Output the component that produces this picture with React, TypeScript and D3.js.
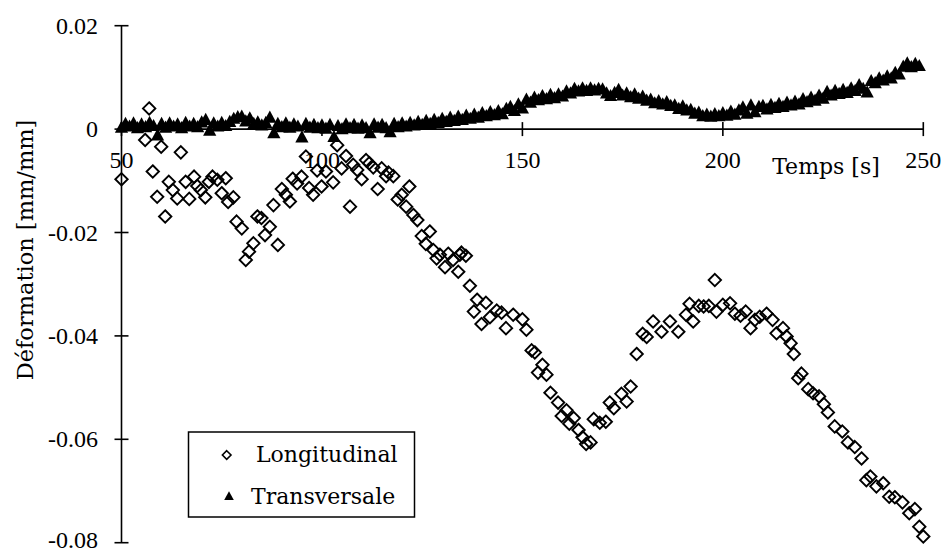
import React from "react";
import * as d3 from "d3";

// Longitudinal strain (open diamonds): time [s] and value [mm/mm]
const longTime = [
  50, 55.9, 56.9, 57.8, 58.9, 59.9, 60.9, 61.8, 62.8, 63.9, 64.8, 66.0, 66.9, 68.1, 68.9, 69.8,
  70.9, 71.8, 72.7, 73.9, 75.0, 76.0, 76.6, 77.9, 78.7, 80.0, 81.0, 81.8, 82.9, 83.9, 84.9, 85.8,
  87.0, 87.9, 89.0, 90.0, 91.0, 92.0, 92.7, 93.8, 94.9, 96.0, 96.8, 97.8, 98.8, 99.9, 101.0, 102.8,
  103.8, 104.9, 106.0, 107.0, 107.8, 108.8, 109.9, 111.0, 111.8, 112.8, 113.9, 114.9, 116.0, 116.6,
  117.8, 118.9, 119.9, 121.0, 121.8, 122.8, 123.8, 124.9, 125.9, 126.9, 127.8, 128.6, 129.4, 130.7,
  131.5, 132.7, 134.0, 134.4, 134.8, 135.9, 136.9, 137.9, 138.7, 139.8, 140.9, 141.9, 143.6, 144.8,
  145.9, 147.7, 150.0, 151.0, 152.3, 153.1, 153.9, 155.0, 156.0, 157.0, 158.9, 159.8, 161.0, 161.7,
  162.8, 164.0, 165.0, 165.9, 167.0, 167.8, 169.3, 170.8, 171.8, 172.8, 174.7, 176.0, 177.0, 178.5,
  180.0, 181.0, 182.6, 184.7, 186.8, 188.9, 190.8, 191.7, 192.6, 194.0, 195.2, 196.5, 198.0, 198.4,
  200.0, 201.8, 203.0, 204.4, 205.7, 206.9, 208.0, 209.2, 210.9, 212.4, 213.4, 215.0, 215.9, 216.9,
  217.7, 218.8, 219.6, 221.3, 222.5, 224.0, 225.2, 226.2, 227.9, 229.8, 231.2, 232.9, 234.6, 235.8,
  236.8, 238.3, 240.0, 241.5, 242.9, 244.8, 246.5, 247.9, 249.0, 250.0,
];
const longValue = [
  -0.0097, -0.0021, 0.004, -0.0082, -0.0131, -0.0034, -0.0169, -0.0102, -0.0118, -0.0134, -0.0045, -0.0102, -0.0135, -0.0092, -0.011, -0.0118,
  -0.0132, -0.0102, -0.0092, -0.0098, -0.0124, -0.0095, -0.0141, -0.0132, -0.0179, -0.0192, -0.0253, -0.0237, -0.0221, -0.0169, -0.0172, -0.0205,
  -0.0189, -0.0147, -0.0224, -0.0116, -0.0127, -0.014, -0.0096, -0.0105, -0.0092, -0.0053, -0.0114, -0.0127, -0.008, -0.0111, -0.0082, -0.0103,
  -0.0031, -0.0076, -0.0052, -0.015, -0.0069, -0.0079, -0.0097, -0.006, -0.0066, -0.0074, -0.0116, -0.0076, -0.0091, -0.0084,
  -0.0091, -0.0136, -0.0127, -0.015, -0.0111, -0.0166, -0.0176, -0.0207, -0.0222, -0.0198, -0.0234, -0.025, -0.0243, -0.0267,
  -0.0241, -0.0253, -0.0276, -0.0243, -0.0239, -0.0245, -0.0303, -0.0353, -0.033, -0.0377, -0.0336, -0.0364, -0.0351, -0.0355,
  -0.0385, -0.0359, -0.0368, -0.0388, -0.0428, -0.0432, -0.0471, -0.0456, -0.0475, -0.051, -0.0529, -0.0555, -0.0544, -0.057,
  -0.0559, -0.0582, -0.0596, -0.0609, -0.0606, -0.0561, -0.0568, -0.0566, -0.0529, -0.054, -0.0512, -0.0527, -0.0498, -0.0435,
  -0.0396, -0.0402, -0.0372, -0.0392, -0.0372, -0.0392, -0.0359, -0.0338, -0.0372, -0.0342, -0.0343, -0.0342, -0.0292, -0.0353,
  -0.034, -0.0337, -0.0357, -0.0361, -0.0353, -0.0385, -0.0369, -0.0363, -0.0357, -0.0369, -0.0395, -0.0385, -0.0401, -0.0414,
  -0.0435, -0.0482, -0.0473, -0.0503, -0.0511, -0.0517, -0.0532, -0.0548, -0.0575, -0.0585, -0.0606, -0.0615, -0.0637, -0.0679,
  -0.0672, -0.0691, -0.0685, -0.0711, -0.0712, -0.0722, -0.0743, -0.0735, -0.0769, -0.0788,
];

// Transverse strain (filled triangles), one sample per second from 50 s
const transStart = 50;
const transValue = [
  0.0004, 0.0011, 0.0006, 0.0012, 0.0003, 0.001, 0.0005, 0.0013, 0.0007, -0.0011,
  0.0011, 0.0004, 0.0012, 0.0006, 0.001, 0.0003, 0.0013, 0.0006, 0.0011, 0.0005,
  0.0014, 0.0019, -0.0002, 0.0012, 0.0006, 0.0013, 0.0007, 0.0015, 0.0021, 0.0024,
  0.0025, 0.0016, 0.0022, 0.0011, 0.0014, 0.0008, 0.0013, 0.0023, -0.0007, 0.0011,
  0.0005, 0.0012, 0.0004, 0.001, 0.0006, -0.0015, 0.0011, 0.0004, 0.0009, 0.0003,
  0.0008, 0.0002, 0.0009, -0.0014, 0.0007, 0.0001, 0.001, 0.0003, 0.0009, 0.0002,
  0.0008, 0.0003, -0.0007, 0.001, 0.0004, 0.0009, 0.0003, -0.0005, 0.0011, 0.0005,
  0.0012, 0.0006, 0.0013, 0.0008, 0.0015, 0.0009, 0.0017, 0.0011, 0.0019, 0.0013,
  0.0021, 0.0015, 0.0023, 0.0017, 0.0025, 0.0019, 0.0027, 0.0021, 0.0029, 0.0023,
  0.0032, 0.0026, 0.0034, 0.0028, 0.0036, 0.003, 0.004, 0.0044, 0.0036, 0.0049,
  0.0041, 0.0058, 0.0052, 0.0062, 0.0057, 0.0065, 0.0059, 0.0067, 0.0061, 0.0068,
  0.0064, 0.0074, 0.007, 0.0079, 0.0074, 0.008, 0.0075, 0.008, 0.0076, 0.0079,
  0.0078, 0.007, 0.0065, 0.0071, 0.0077, 0.0066, 0.007, 0.0063, 0.0068, 0.006,
  0.0064, 0.0056, 0.0058, 0.0051, 0.0055, 0.0049, 0.0053, 0.0046, 0.0047, 0.004,
  0.0045, 0.0037, 0.0038, 0.0031, 0.0033, 0.0026, 0.0029, 0.0025, 0.003, 0.0026,
  0.0032, 0.0027, 0.0035, 0.0029, 0.0037, 0.0043, 0.0031, 0.0047, 0.0034, 0.0044,
  0.0046, 0.0039, 0.0048, 0.0042, 0.005, 0.0044, 0.0052, 0.0047, 0.0054, 0.0049,
  0.0059, 0.0053, 0.0062, 0.0056, 0.0066, 0.006, 0.0073, 0.0066, 0.0075, 0.0069,
  0.0077, 0.0071, 0.008, 0.0075, 0.0086, 0.0079, 0.0072, 0.0094, 0.009, 0.0099,
  0.0095, 0.0103, 0.0099, 0.011, 0.0107, 0.0122, 0.0128, 0.0121, 0.0127, 0.0123,
];

const xTicks = [50, 100, 150, 200, 250];
const yTicks = [0.02, 0, -0.02, -0.04, -0.06, -0.08];
const yTickLabels = ["0.02", "0", "-0.02", "-0.04", "-0.06", "-0.08"];
const legendLabels = ["Longitudinal", "Transversale"];

const W = 945;
const H = 554;
const NUM_FONT = "'Liberation Serif', serif";
const TXT_FONT = "'DejaVu Serif', serif";

const x = d3.scaleLinear().domain([50, 250]).range([121.5, 923.3]);
const y = d3.scaleLinear().domain([-0.08, 0.02]).range([542.7, 25.7]);

const diamond = (cx: number, cy: number, r: number) =>
  `M${cx},${cy - r}L${cx + r},${cy}L${cx},${cy + r}L${cx - r},${cy}Z`;
const triangle = (cx: number, cy: number, s: number) =>
  `M${cx},${cy - s}L${cx + s},${cy + s * 0.85}L${cx - s},${cy + s * 0.85}Z`;

export default function App() {
  const longPts = longTime.map((t, i) => ({ t, v: longValue[i] }));
  const transPts = transValue.map((v, i) => ({ t: transStart + i, v }));
  const y0 = y(0);
  return (
    <svg
      width={W}
      height={H}
      style={{ position: "absolute", left: 0, top: 0, background: "#fff" }}
    >
      <rect x={0} y={0} width={W} height={H} fill="#fff" />
      {/* axes */}
      <g stroke="#000" strokeWidth={1.6}>
        <line x1={x(50)} x2={x(50)} y1={y(0.02)} y2={y(-0.08)} />
        {yTicks.map((t) => (
          <line key={"yt" + t} x1={x(50) - 7} x2={x(50) + 7} y1={y(t)} y2={y(t)} />
        ))}
        <line x1={x(50)} x2={x(250)} y1={y0} y2={y0} />
        {xTicks.map((t) => (
          <line key={"xt" + t} x1={x(t)} x2={x(t)} y1={y0 - 7} y2={y0 + 7} />
        ))}
      </g>
      {/* tick labels */}
      <g fontFamily={NUM_FONT} fontSize={24} fill="#000">
        {yTicks.map((t, i) => (
          <text key={"yl" + t} x={98} y={Math.min(y(t) + 8, 548)} textAnchor="end">
            {yTickLabels[i]}
          </text>
        ))}
        {xTicks.map((t) => (
          <text key={"xl" + t} x={x(t)} y={168} textAnchor="middle">
            {t}
          </text>
        ))}
      </g>
      {/* axis titles */}
      <text x={826} y={174} textAnchor="middle" fontFamily={TXT_FONT} fontSize={22}>
        Temps [s]
      </text>
      <text
        transform={`translate(33,${250}) rotate(-90)`}
        textAnchor="middle"
        fontFamily={TXT_FONT}
        fontSize={22.5}
      >
        Déformation [mm/mm]
      </text>
      {/* series: longitudinal */}
      <g fill="none" stroke="#000" strokeWidth={1.9}>
        {longPts.map((d, i) => (
          <path key={"l" + i} d={diamond(x(d.t), y(d.v), 6.2)} />
        ))}
      </g>
      {/* series: transversal */}
      <g fill="#000" stroke="none">
        {transPts.map((d, i) => (
          <path key={"tr" + i} d={triangle(x(d.t), y(d.v), 6.6)} />
        ))}
      </g>
      {/* legend */}
      <rect x={188.5} y={432} width={226} height={85} fill="#fff" stroke="#000" strokeWidth={1.5} />
      <path d={diamond(226.7, 455, 4.3)} fill="none" stroke="#000" strokeWidth={1.6} />
      <path d={triangle(229, 496, 4.8)} fill="#000" />
      <g fontFamily={TXT_FONT} fontSize={22} fill="#000">
        <text x={256} y={462}>{legendLabels[0]}</text>
        <text x={251} y={503.5}>{legendLabels[1]}</text>
      </g>
    </svg>
  );
}
